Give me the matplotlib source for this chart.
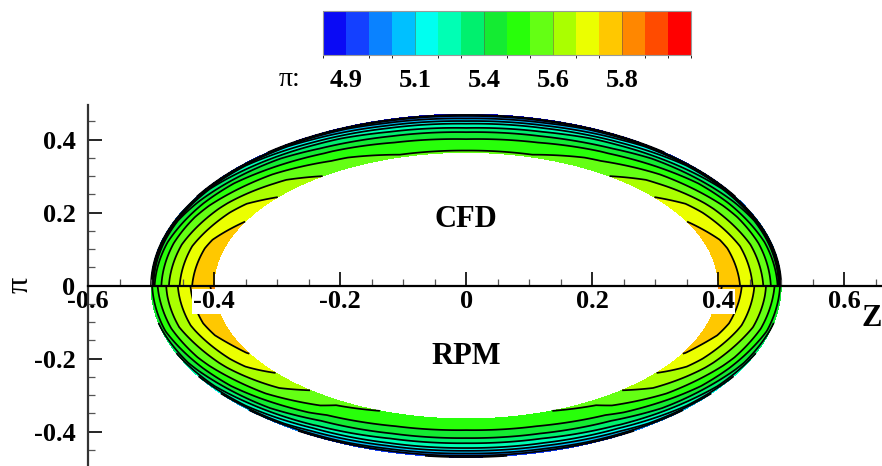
import numpy as np
import matplotlib
matplotlib.use("Agg")
import matplotlib.pyplot as plt
import matplotlib.colors as mcolors
import matplotlib.colorbar as mcolorbar

plt.rcParams['font.family'] = ['Liberation Serif', 'DejaVu Serif']

# contour levels and fill colours (Tecplot-like legend, half bins at both ends)
levels = [4.9, 4.975, 5.05, 5.125, 5.2, 5.275, 5.35, 5.425, 5.5,
          5.575, 5.65, 5.725, 5.8, 5.875, 5.95]
fill_colors = ['#0a0af5', '#1440ff', '#0a82ff', '#00c0ff', '#00fff0', '#00ffb4',
               '#00f06e', '#14eb32', '#28ff0a', '#64ff14', '#aaff00', '#ebff00',
               '#ffc800', '#ff8700', '#ff4b00', '#ff0000']
cbar_ticks = [4.9, 5.125, 5.35, 5.575, 5.8]
cbar_labels = ['4.9', '5.1', '5.4', '5.6', '5.8']

# ring geometry (semi-axes of outer / inner ellipse)
outer_ab = (0.5, 0.47)
inner_ab = (0.4, 0.365)

# field samples:
# rows = angle from the Z axis (deg), columns = position across ring (0 inner -> 1 outer)
angles = [0, 15, 30, 45, 60, 75, 90]
ring_pos = [0, 0.25, 0.5, 0.75, 0.95, 1.0]
cfd_vals = [[5.80, 5.76, 5.67, 5.56, 5.42, 5.05],
            [5.78, 5.74, 5.65, 5.54, 5.39, 5.02],
            [5.72, 5.68, 5.59, 5.48, 5.31, 4.98],
            [5.63, 5.59, 5.51, 5.39, 5.20, 4.92],
            [5.55, 5.51, 5.43, 5.30, 5.09, 4.87],
            [5.51, 5.47, 5.39, 5.23, 5.01, 4.85],
            [5.51, 5.46, 5.37, 5.20, 4.98, 4.84]]
rpm_vals = [[5.81, 5.77, 5.68, 5.58, 5.47, 5.40],
            [5.79, 5.75, 5.66, 5.56, 5.43, 5.34],
            [5.73, 5.68, 5.59, 5.48, 5.33, 5.22],
            [5.62, 5.58, 5.50, 5.38, 5.20, 5.06],
            [5.52, 5.48, 5.40, 5.27, 5.08, 4.96],
            [5.49, 5.45, 5.36, 5.22, 5.02, 4.91],
            [5.49, 5.44, 5.35, 5.21, 5.00, 4.89]]

xticks = [-0.6, -0.4, -0.2, 0, 0.2, 0.4, 0.6]
xtick_labels = ['-0.6', '-0.4', '-0.2', '0', '0.2', '0.4', '0.6']
yticks = [-0.4, -0.2, 0, 0.2, 0.4]
ytick_labels = ['-0.4', '-0.2', '0', '0.2', '0.4']


def half_ring(table, sign):
    t = np.linspace(0, np.pi, 361)
    s = np.linspace(0, 1, 121)
    phi = np.degrees(np.minimum(t, np.pi - t))
    tab = np.asarray(table)
    rows = np.array([np.interp(s, ring_pos, r) for r in tab])
    Z = np.array([np.interp(phi, angles, rows[:, j]) for j in range(len(s))]).T
    T, S = np.meshgrid(t, s, indexing='ij')
    a = inner_ab[0] + S * (outer_ab[0] - inner_ab[0])
    b = inner_ab[1] + S * (outer_ab[1] - inner_ab[1])
    return a * np.cos(T), sign * b * np.sin(T), Z


fig = plt.figure(figsize=(8.82, 4.66), dpi=100)
ax = fig.add_axes([88 / 882, 0, 794 / 882, 361 / 466])

fill_levels = [3.0] + levels + [7.0]
for table, sign in ((cfd_vals, 1), (rpm_vals, -1)):
    X, Y, Z = half_ring(table, sign)
    ax.contourf(X, Y, Z, levels=fill_levels, colors=fill_colors, zorder=1)
    ax.contour(X, Y, Z, levels=levels, colors='k', linewidths=1.25, zorder=1.5)

ax.set_xlim(-0.6, 0.66)
ax.set_ylim(-0.494, 0.495)

for side in ('top', 'right'):
    ax.spines[side].set_visible(False)
ax.spines['bottom'].set_position(('data', 0))
ax.spines['bottom'].set_linewidth(1.6)
ax.spines['left'].set_linewidth(1.6)
ax.spines['left'].set_color('#333333')

ax.set_xticks(xticks)
ax.set_xticklabels(xtick_labels)
ax.set_yticks(yticks)
ax.set_yticklabels(ytick_labels)
ax.set_xticks(np.arange(-0.55, 0.66, 0.05), minor=True)
ax.set_yticks(np.arange(-0.45, 0.46, 0.05), minor=True)
ax.tick_params(which='both', direction='in', labelsize=19)
ax.tick_params(which='major', length=10, width=1.2)
ax.tick_params(which='minor', length=5, width=0.9, colors='#555555')
ax.tick_params(axis='x', pad=3)
ax.tick_params(axis='y', pad=9)
for lbl in ax.get_xticklabels() + ax.get_yticklabels():
    lbl.set_fontweight('bold')
for lbl in ax.get_xticklabels():
    lbl.set_bbox(dict(facecolor='white', edgecolor='none', pad=0.5))

ax.text(0, 0.18, 'CFD', ha='center', va='center', fontsize=22, fontweight='bold')
ax.text(0, -0.195, 'RPM', ha='center', va='center', fontsize=22, fontweight='bold')

fig.text(20 / 882, 1 - 285 / 466, 'π', rotation=90, ha='center', va='center', fontsize=23)
fig.text(872 / 882, 1 - 318 / 466, 'Z', ha='center', va='center', fontsize=22, fontweight='bold')

# legend bar
cax = fig.add_axes([323 / 882, 1 - 55 / 466, 368 / 882, 44 / 466])
cb_bounds = [4.8625] + levels + [5.9875]
cmap = mcolors.ListedColormap(fill_colors)
norm = mcolors.BoundaryNorm(cb_bounds, cmap.N)
cb = mcolorbar.Colorbar(cax, cmap=cmap, norm=norm, boundaries=cb_bounds,
                        orientation='horizontal', ticks=cbar_ticks)
cb.ax.set_xticklabels(cbar_labels)
cb.ax.tick_params(length=0, labelsize=19, pad=10)
for lbl in cb.ax.get_xticklabels():
    lbl.set_fontweight('bold')
cb.outline.set_edgecolor('#999999')
cb.outline.set_linewidth(0.8)
for v in cbar_ticks[1:]:
    cax.axvline(v, color='#555555', lw=0.6, alpha=0.6)
fig.text(290 / 882, 1 - 80 / 466, 'π:', ha='center', va='center', fontsize=20)

fig.savefig('out.png', dpi=100)
